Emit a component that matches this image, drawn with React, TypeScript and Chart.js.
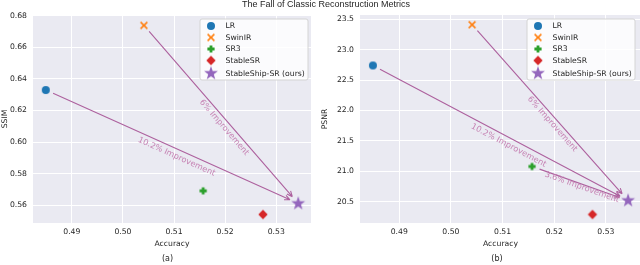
import React, { useEffect, useRef } from "react";
import { Chart, registerables } from "chart.js";

Chart.register(...registerables);

// ---------------- data ----------------
const methods = ["LR", "SwinIR", "SR3", "StableSR", "StableShip-SR (ours)"];
const markerKinds = ["circle", "x", "plus", "diamond", "star"];
const colors = ["#1f77b4", "#ff7f0e", "#2ca02c", "#d62728", "#9467bd"];
const accuracy = [0.4849, 0.5041, 0.5157, 0.5274, 0.5343];
const ssim = [0.633, 0.674, 0.569, 0.554, 0.561];
const psnr = [22.74, 23.41, 21.08, 20.29, 20.52];

const accuracyTicks = [0.49, 0.5, 0.51, 0.52, 0.53];
const ssimTicks = [0.56, 0.58, 0.6, 0.62, 0.64, 0.66, 0.68];
const psnrTicks = [20.5, 21.0, 21.5, 22.0, 22.5, 23.0, 23.5];

const titleText = "The Fall of Classic Reconstruction Metrics";

// annotations: source index -> target index (ours)
const ssimArrowFrom = [1, 0];
const ssimArrowText = ["6% Improvement", "10.2% Improvement"];
const psnrArrowFrom = [1, 0, 2];
const psnrArrowText = ["6% Improvement", "10.2% Improvement", "3.6% Improvement"];
const oursIndex = 4;

// ---------------- styling ----------------
const TEXT = "#262626";
const BG = "#EAEAF2";
const ARROW = "#ad619e";
const ANNOT = "rgba(196,124,176,0.95)";
const FONT = "DejaVu Sans";

function makeMarker(kind: string, color: string): HTMLCanvasElement {
  const s = 16;
  const c = document.createElement("canvas");
  c.width = s;
  c.height = s;
  const g = c.getContext("2d")!;
  const m = s / 2;
  g.fillStyle = color;
  g.strokeStyle = color;
  g.beginPath();
  if (kind === "circle") {
    g.arc(m, m, 4.0, 0, Math.PI * 2);
    g.fill();
  } else if (kind === "x") {
    const r = 3.4;
    g.lineWidth = 1.5;
    g.moveTo(m - r, m - r);
    g.lineTo(m + r, m + r);
    g.moveTo(m + r, m - r);
    g.lineTo(m - r, m + r);
    g.stroke();
  } else if (kind === "plus") {
    const a = 3.6;
    const w = 1.4;
    const pts = [
      [-w, -a], [w, -a], [w, -w], [a, -w], [a, w], [w, w],
      [w, a], [-w, a], [-w, w], [-a, w], [-a, -w], [-w, -w],
    ];
    pts.forEach(([px, py], i) => (i ? g.lineTo(m + px, m + py) : g.moveTo(m + px, m + py)));
    g.closePath();
    g.fill();
  } else if (kind === "diamond") {
    const r = 4.7;
    g.moveTo(m, m - r);
    g.lineTo(m + r, m);
    g.lineTo(m, m + r);
    g.lineTo(m - r, m);
    g.closePath();
    g.fill();
  } else if (kind === "star") {
    const R = 7.3;
    const r = 2.9;
    for (let i = 0; i < 10; i++) {
      const ang = -Math.PI / 2 + (i * Math.PI) / 5;
      const rr = i % 2 === 0 ? R : r;
      const px = m + rr * Math.cos(ang);
      const py = m + rr * Math.sin(ang);
      i ? g.lineTo(px, py) : g.moveTo(px, py);
    }
    g.closePath();
    g.fill();
  }
  return c;
}

type PanelCfg = {
  yValues: number[];
  yTicks: number[];
  yMin: number;
  yMax: number;
  yDecimals: number;
  yLabel: string;
  yAxisWidth: number;
  padRight: number;
  arrowFrom: number[];
  arrowText: string[];
  arrowLayout: { t: number; off: number }[];
  caption: string;
  captionX: number;
  legendX: number;
};

function drawArrow(ctx: CanvasRenderingContext2D, x1: number, y1: number, x2: number, y2: number) {
  const dx = x2 - x1;
  const dy = y2 - y1;
  const L = Math.hypot(dx, dy);
  const ux = dx / L;
  const uy = dy / L;
  const sx = x1 + ux * 8;
  const sy = y1 + uy * 8;
  const ex = x2 - ux * 9;
  const ey = y2 - uy * 9;
  ctx.save();
  ctx.strokeStyle = ARROW;
  ctx.lineWidth = 1.1;
  ctx.beginPath();
  ctx.moveTo(sx, sy);
  ctx.lineTo(ex, ey);
  const ang = Math.atan2(uy, ux);
  const hl = 6;
  for (const s of [-1, 1]) {
    const a = ang + Math.PI - s * 0.42;
    ctx.moveTo(ex, ey);
    ctx.lineTo(ex + hl * Math.cos(a), ey + hl * Math.sin(a));
  }
  ctx.stroke();
  ctx.restore();
}

function createPanel(canvas: HTMLCanvasElement, cfg: PanelCfg) {
  const images = markerKinds.map((k, i) => makeMarker(k, colors[i]));
  const tickFont = { family: FONT, size: 7.7 };

  const plugin = {
    id: "panelDeco",
    beforeDraw(chart: any) {
      const { ctx, chartArea: a } = chart;
      ctx.save();
      ctx.fillStyle = BG;
      ctx.fillRect(a.left, a.top, a.right - a.left, a.bottom - a.top);
      ctx.restore();
    },
    afterDatasetsDraw(chart: any) {
      const { ctx } = chart;
      const xs = chart.scales.x;
      const ys = chart.scales.y;
      const tx = xs.getPixelForValue(accuracy[oursIndex]);
      const ty = ys.getPixelForValue(cfg.yValues[oursIndex]);
      cfg.arrowFrom.forEach((fi, k) => {
        const fx = xs.getPixelForValue(accuracy[fi]);
        const fy = ys.getPixelForValue(cfg.yValues[fi]);
        drawArrow(ctx, fx, fy, tx, ty);
        const dx = tx - fx;
        const dy = ty - fy;
        const L = Math.hypot(dx, dy);
        const nx = -dy / L;
        const ny = dx / L;
        const { t, off } = cfg.arrowLayout[k];
        const px = fx + dx * t + nx * off;
        const py = fy + dy * t + ny * off;
        ctx.save();
        ctx.translate(px, py);
        ctx.rotate(Math.atan2(dy, dx));
        ctx.font = `8.2px "${FONT}"`;
        ctx.fillStyle = ANNOT;
        ctx.textAlign = "center";
        ctx.textBaseline = "middle";
        ctx.fillText(cfg.arrowText[k], 0, 0);
        ctx.restore();
      });
    },
    afterDraw(chart: any) {
      const { ctx } = chart;
      // legend
      const x0 = cfg.legendX;
      const y0 = 19;
      const w = 108;
      const h = 61;
      ctx.save();
      ctx.beginPath();
      const r = 2;
      ctx.moveTo(x0 + r, y0);
      ctx.arcTo(x0 + w, y0, x0 + w, y0 + h, r);
      ctx.arcTo(x0 + w, y0 + h, x0, y0 + h, r);
      ctx.arcTo(x0, y0 + h, x0, y0, r);
      ctx.arcTo(x0, y0, x0 + w, y0, r);
      ctx.closePath();
      ctx.fillStyle = "rgba(255,255,255,0.8)";
      ctx.fill();
      ctx.strokeStyle = "#d4d4d4";
      ctx.lineWidth = 1;
      ctx.stroke();
      const rows = [7, 18.5, 30, 41.5, 54.3];
      ctx.font = `7.7px "${FONT}"`;
      ctx.fillStyle = TEXT;
      ctx.textAlign = "left";
      ctx.textBaseline = "middle";
      methods.forEach((name, i) => {
        const yy = y0 + rows[i];
        const img = images[i];
        ctx.drawImage(img, x0 + 11 - img.width / 2, yy - img.height / 2);
        ctx.fillText(name, x0 + 25.5, yy + 0.5);
      });
      // caption
      ctx.font = `8px "${FONT}"`;
      ctx.textAlign = "center";
      ctx.fillText(cfg.caption, cfg.captionX, 258.5);
      ctx.restore();
    },
  };

  return new Chart(canvas, {
    type: "scatter",
    data: {
      datasets: methods.map((name, i) => ({
        label: name,
        data: [{ x: accuracy[i], y: cfg.yValues[i] }],
        pointStyle: images[i] as any,
        pointRadius: 8,
        pointHoverRadius: 8,
        backgroundColor: colors[i],
        borderColor: colors[i],
      })),
    },
    options: {
      responsive: false,
      animation: false,
      devicePixelRatio: 1,
      events: [],
      layout: { padding: { left: 0, right: cfg.padRight, top: 15, bottom: 0 } },
      plugins: { legend: { display: false }, tooltip: { enabled: false }, title: { display: false } },
      scales: {
        x: {
          type: "linear",
          min: 0.4824,
          max: 0.5368,
          afterFit: (s: any) => {
            s.height = 42;
          },
          afterBuildTicks: (s: any) => {
            s.ticks = accuracyTicks.map((v) => ({ value: v }));
          },
          ticks: {
            callback: (v: any) => Number(v).toFixed(2),
            font: tickFont,
            color: TEXT,
            padding: 4,
            maxRotation: 0,
            autoSkip: false,
          },
          grid: { color: "#ffffff", lineWidth: 1, drawTicks: false },
          border: { display: false },
          title: {
            display: true,
            text: "Accuracy",
            font: tickFont,
            color: TEXT,
            padding: { top: 0, bottom: 16.4 },
          },
        },
        y: {
          type: "linear",
          min: cfg.yMin,
          max: cfg.yMax,
          afterFit: (s: any) => {
            s.width = cfg.yAxisWidth;
          },
          afterBuildTicks: (s: any) => {
            s.ticks = cfg.yTicks.map((v) => ({ value: v }));
          },
          ticks: {
            callback: (v: any) => Number(v).toFixed(cfg.yDecimals),
            font: tickFont,
            color: TEXT,
            padding: 6,
            autoSkip: false,
          },
          grid: { color: "#ffffff", lineWidth: 1, drawTicks: false },
          border: { display: false },
          title: {
            display: true,
            text: cfg.yLabel,
            font: tickFont,
            color: TEXT,
            padding: { top: 0, bottom: 0 },
          },
        },
      },
    },
    plugins: [plugin],
  } as any);
}

export default function App() {
  const leftRef = useRef<HTMLCanvasElement>(null);
  const rightRef = useRef<HTMLCanvasElement>(null);

  useEffect(() => {
    const left = createPanel(leftRef.current!, {
      yValues: ssim,
      yTicks: ssimTicks,
      yMin: 0.5486,
      yMax: 0.6806,
      yDecimals: 2,
      yLabel: "SSIM",
      yAxisWidth: 33,
      padRight: 7,
      arrowFrom: ssimArrowFrom,
      arrowText: ssimArrowText,
      arrowLayout: [
        { t: 0.55, off: 6.3 },
        { t: 0.53, off: 7.3 },
      ],
      caption: "(a)",
      captionX: 167.5,
      legendX: 200,
    });
    const right = createPanel(rightRef.current!, {
      yValues: psnr,
      yTicks: psnrTicks,
      yMin: 20.15,
      yMax: 23.57,
      yDecimals: 1,
      yLabel: "PSNR",
      yAxisWidth: 40,
      padRight: 7,
      arrowFrom: psnrArrowFrom,
      arrowText: psnrArrowText,
      arrowLayout: [
        { t: 0.543, off: 5.9 },
        { t: 0.545, off: 7.3 },
        { t: 0.53, off: 3 },
      ],
      caption: "(b)",
      captionX: 177,
      legendX: 207,
    });
    return () => {
      left.destroy();
      right.destroy();
    };
  }, []);

  return (
    <div
      style={{
        position: "fixed",
        left: 0,
        top: 0,
        width: 640,
        height: 265,
        overflow: "hidden",
        background: "#ffffff",
      }}
    >
      <canvas ref={leftRef} width={320} height={265} style={{ position: "absolute", left: 0, top: 0, width: 320, height: 265 }} />
      <canvas ref={rightRef} width={330} height={265} style={{ position: "absolute", left: 320, top: 0, width: 330, height: 265 }} />
      <div
        style={{
          position: "absolute",
          left: 0,
          top: 0,
          width: 652,
          textAlign: "center",
          fontFamily: '"Liberation Sans", Arial, sans-serif',
          fontSize: 9,
          lineHeight: "9px",
          color: TEXT,
          whiteSpace: "nowrap",
        }}
      >
        {titleText}
      </div>
    </div>
  );
}
